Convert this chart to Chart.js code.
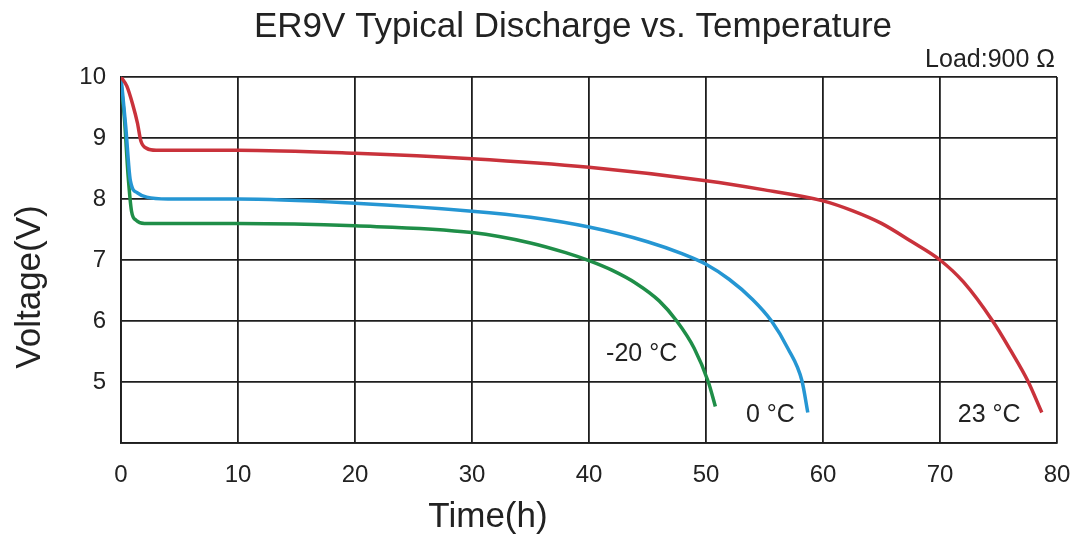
<!DOCTYPE html>
<html>
<head>
<meta charset="utf-8">
<script src="https://cdn.jsdelivr.net/npm/chart.js@4.4.1/dist/chart.umd.min.js"></script>
<style>
  html, body { margin: 0; padding: 0; background: #ffffff; }
  #wrap { width: 1075px; height: 537px; }
</style>
</head>
<body>
<div id="wrap"><canvas id="c" width="1075" height="537"></canvas></div>
<script>
// ---- data ----
const chartTitle = "ER9V Typical Discharge vs. Temperature";
const loadLabel = "Load:900 Ω";
const xAxisTitle = "Time(h)";
const yAxisTitle = "Voltage(V)";
const xTicks = [0, 10, 20, 30, 40, 50, 60, 70, 80];
const yTicks = [5, 6, 7, 8, 9, 10];

const seriesNames = ["23 °C", "0 °C", "-20 °C"];

const t23 = [0, 0.5, 1.0, 1.4, 1.7, 2.2, 3, 10, 20, 30, 40, 50, 55, 60, 62.5, 65, 67.5, 70, 72, 74.5, 76, 77.5, 78.7];
const v23 = [10, 9.85, 9.55, 9.25, 8.95, 8.83, 8.8, 8.8, 8.75, 8.66, 8.52, 8.3, 8.15, 7.97, 7.81, 7.6, 7.31, 7.0, 6.64, 6.0, 5.53, 5.02, 4.5];

const t0 = [0, 0.4, 0.8, 1.4, 2.2, 4, 10, 20, 30, 35, 40, 45, 48, 50, 52, 54, 55.6, 57, 58.2, 58.7];
const v0 = [10, 9.2, 8.3, 8.1, 8.03, 8.0, 8.0, 7.93, 7.8, 7.7, 7.54, 7.3, 7.1, 6.93, 6.68, 6.35, 6.0, 5.55, 5.02, 4.5];

const tm20 = [0, 0.3, 0.6, 0.9, 1.3, 2, 5, 10, 20, 30, 35, 38, 40, 42, 44, 46, 47.5, 49, 50.2, 50.8];
const vm20 = [9.9, 9.3, 8.4, 7.8, 7.65, 7.6, 7.6, 7.6, 7.56, 7.45, 7.28, 7.12, 6.99, 6.83, 6.62, 6.33, 6.0, 5.55, 5.0, 4.6];

const seriesColors = ["#c9323b", "#2596d3", "#1f8e48"];

// curve label positions in data units
const labelX = [74.2, 55.5, 44.5];
const labelY = [4.45, 4.45, 5.45];

function pts(ts, vs) { return ts.map((t, i) => ({ x: t, y: vs[i] })); }

const FONT = "'Liberation Sans', Arial, Helvetica, sans-serif";
const GRID = "#1e1e1e";
const TXT = "#222222";

const textPlugin = {
  id: 'texts',
  afterDraw(chart) {
    const ctx = chart.ctx;
    const xs = chart.scales.x, ys = chart.scales.y;
    const ca = chart.chartArea;
    ctx.save();
    ctx.fillStyle = TXT;
    // title
    ctx.font = "35px " + FONT;
    ctx.textAlign = "center";
    ctx.textBaseline = "middle";
    ctx.fillText(chartTitle, 573, 27);
    // load label
    ctx.font = "25px " + FONT;
    ctx.textAlign = "right";
    ctx.fillText(loadLabel, ca.right - 2, 60);
    // axis titles
    ctx.font = "35px " + FONT;
    ctx.textAlign = "center";
    ctx.fillText(xAxisTitle, 488, 517);
    ctx.save();
    ctx.translate(30, 287);
    ctx.rotate(-Math.PI / 2);
    ctx.fillText(yAxisTitle, 0, 0);
    ctx.restore();
    // curve labels
    ctx.font = "25px " + FONT;
    for (let i = 0; i < seriesNames.length; i++) {
      ctx.fillText(seriesNames[i], xs.getPixelForValue(labelX[i]), ys.getPixelForValue(labelY[i]));
    }
    ctx.restore();
  }
};

new Chart(document.getElementById('c'), {
  type: 'line',
  data: {
    datasets: [
      { label: seriesNames[0], data: pts(t23, v23), borderColor: seriesColors[0] },
      { label: seriesNames[1], data: pts(t0, v0), borderColor: seriesColors[1] },
      { label: seriesNames[2], data: pts(tm20, vm20), borderColor: seriesColors[2] }
    ].map(d => Object.assign(d, { borderWidth: 3.5, pointRadius: 0, fill: false, cubicInterpolationMode: 'monotone' }))
  },
  options: {
    responsive: false,
    animation: false,
    layout: { padding: { left: 0, right: 18, top: 77, bottom: 0 } },
    plugins: {
      legend: { display: false },
      title: { display: false },
      tooltip: { enabled: false }
    },
    scales: {
      x: {
        type: 'linear',
        min: 0, max: 80,
        afterBuildTicks: s => { s.ticks = xTicks.map(v => ({ value: v })); },
        afterFit: s => { s.height = 94; s.paddingLeft = 0; s.paddingRight = 0; },
        grid: { color: GRID, lineWidth: 1.8, drawTicks: false },
        border: { color: GRID, width: 1.8 },
        ticks: { padding: 18, color: TXT, font: { family: FONT, size: 24 }, maxRotation: 0 }
      },
      y: {
        type: 'linear',
        min: 4, max: 10,
        afterBuildTicks: s => { s.ticks = [4].concat(yTicks).map(v => ({ value: v })); },
        afterFit: s => { s.width = 121; s.paddingTop = 0; s.paddingBottom = 0; },
        grid: { color: GRID, lineWidth: 1.8, drawTicks: false },
        border: { color: GRID, width: 1.8 },
        ticks: { padding: 15, color: TXT, font: { family: FONT, size: 24 },
          callback: v => (yTicks.includes(v) ? String(v) : '') }
      }
    }
  },
  plugins: [textPlugin]
});
</script>
</body>
</html>
